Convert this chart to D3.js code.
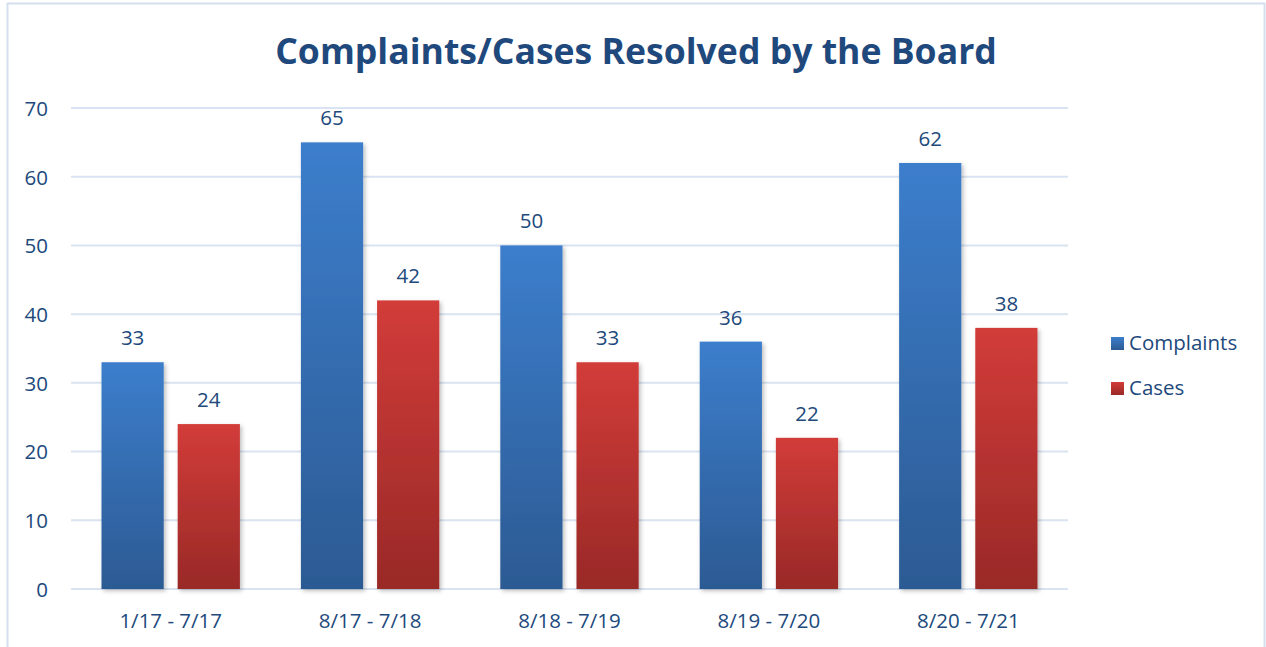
<!DOCTYPE html>
<html><head><meta charset="utf-8">
<script src="https://cdn.jsdelivr.net/npm/d3@7"></script>
<style>
html,body{margin:0;padding:0;background:#fff;}
svg{display:block;}
text{font-family:"Open Sans",sans-serif;}
</style></head>
<body>
<svg id="c" width="1266" height="647"></svg>
<script>
const categories = ["1/17 - 7/17","8/17 - 7/18","8/18 - 7/19","8/19 - 7/20","8/20 - 7/21"];
const complaints = [33,65,50,36,62];
const cases = [24,42,33,22,38];
const yTicks = [0,10,20,30,40,50,60,70];
const seriesNames = ["Complaints","Cases"];

const svg = d3.select("#c");
const textColor = "#21497c";
const FONT = "'Open Sans',sans-serif";
const FS = 20.5;

// frame
svg.append("rect").attr("x",7.5).attr("y",3.5).attr("width",1257).attr("height",660)
  .attr("fill","#fff").attr("stroke","#d5e0ef").attr("stroke-width",2);

const defs = svg.append("defs");
const g1 = defs.append("linearGradient").attr("id","gB").attr("x1",0).attr("y1",0).attr("x2",0).attr("y2",1);
g1.append("stop").attr("offset","0%").attr("stop-color","#3c7ecc");
g1.append("stop").attr("offset","100%").attr("stop-color","#2c5a93");
const g2 = defs.append("linearGradient").attr("id","gR").attr("x1",0).attr("y1",0).attr("x2",0).attr("y2",1);
g2.append("stop").attr("offset","0%").attr("stop-color","#d23c39");
g2.append("stop").attr("offset","100%").attr("stop-color","#992927");
const f = defs.append("filter").attr("id","sh").attr("x","-20%").attr("y","-10%").attr("width","140%").attr("height","120%");
f.append("feDropShadow").attr("dx",2).attr("dy",2).attr("stdDeviation",2).attr("flood-color","#000").attr("flood-opacity",0.25);

const x0 = d3.scaleBand().domain(categories).range([71,1068]);
const y = d3.scaleLinear().domain([0,70]).range([589,108]);

// gridlines
svg.append("g").selectAll("line").data(yTicks).join("line")
  .attr("x1",71).attr("x2",1068)
  .attr("y1",d=>y(d)).attr("y2",d=>y(d))
  .attr("stroke","#d9e3f1").attr("stroke-width",2);

// y axis labels
const yAxis = d3.axisLeft(y).tickValues(yTicks).tickSize(0).tickPadding(0);
const ya = svg.append("g").attr("transform","translate(48,0)").call(yAxis);
ya.select(".domain").remove();
ya.selectAll("text").attr("font-size",FS).attr("fill",textColor).attr("font-family",FONT).attr("dy","0.36em");

// x axis labels
const xAxis = d3.axisBottom(x0).tickSize(0).tickPadding(0);
const xa = svg.append("g").attr("transform","translate(0,628)").call(xAxis);
xa.select(".domain").remove();
xa.selectAll("text").attr("font-size",FS).attr("fill",textColor).attr("font-family",FONT).attr("dy",0).attr("y",0);

const bw = x0.bandwidth();
const barW = bw*0.312, gap = bw*0.07, off = (bw - 2*barW - gap)/2;
const series = [
  {name:"Complaints", vals:complaints, fill:"url(#gB)", dx:off},
  {name:"Cases", vals:cases, fill:"url(#gR)", dx:off+barW+gap}
];
series.forEach(s=>{
  const g = svg.append("g");
  g.selectAll("rect").data(s.vals).join("rect")
    .attr("x",(d,i)=>x0(categories[i])+s.dx)
    .attr("y",d=>y(d))
    .attr("width",barW)
    .attr("height",d=>y(0)-y(d))
    .attr("fill",s.fill)
    .attr("filter","url(#sh)");
  g.selectAll("text").data(s.vals).join("text")
    .attr("x",(d,i)=>x0(categories[i])+s.dx+barW/2)
    .attr("y",d=>y(d)-17)
    .attr("text-anchor","middle")
    .attr("font-size",FS).attr("fill",textColor)
    .text(d=>d);
});

// title
svg.append("text").attr("x",636).attr("y",64).attr("text-anchor","middle")
  .attr("font-size",35.6).attr("font-weight","bold").attr("fill","#1f497d")
  .text("Complaints/Cases Resolved by the Board");

// legend
const lg = svg.append("g");
const legendFill = ["url(#gB)","url(#gR)"];
seriesNames.forEach((n,i)=>{
  const yy = 343 + i*45;
  lg.append("rect").attr("x",1111).attr("y",yy-6).attr("width",13).attr("height",13).attr("fill",legendFill[i]);
  lg.append("text").attr("x",1129).attr("y",yy).attr("dy","0.36em").attr("font-size",FS).attr("fill",textColor).text(n);
});
</script>
</body></html>
